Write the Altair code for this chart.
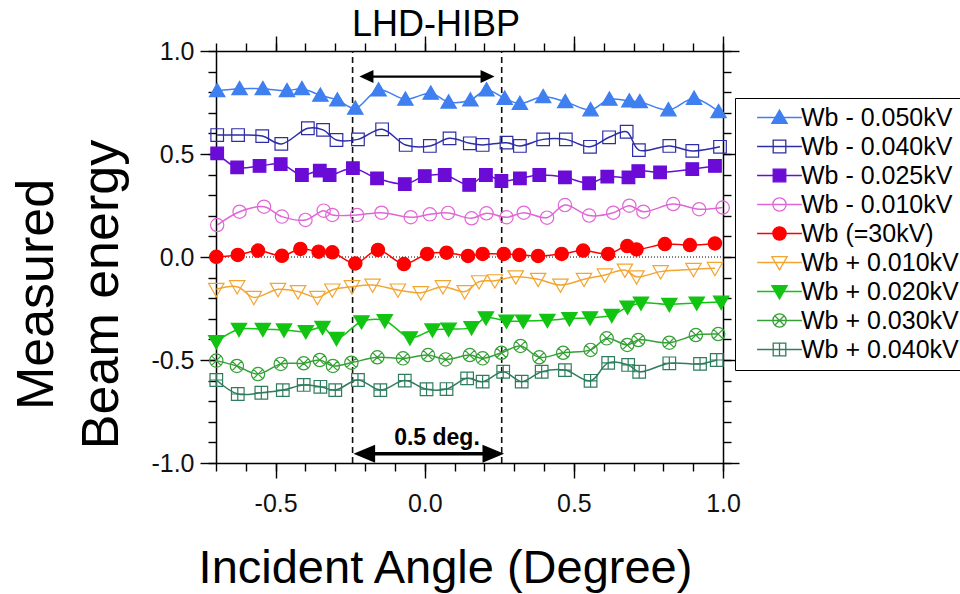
import altair as alt
import pandas as pd

# ---------------- data ----------------
SERIES = ["Wb - 0.050kV", "Wb - 0.040kV", "Wb - 0.025kV", "Wb - 0.010kV", "Wb (=30kV)",
          "Wb + 0.010kV", "Wb + 0.020kV", "Wb + 0.030kV", "Wb + 0.040kV"]
COLORS = ["#3f7ff0", "#2d2da8", "#6a0bd6", "#e066d6", "#ff0000",
          "#f2a531", "#12c412", "#35a035", "#2e7d5e"]
FILLED = [True, False, True, False, True, False, True, False, False]

X_M050 = [-0.696, -0.621, -0.543, -0.462, -0.412, -0.350, -0.293, -0.233, -0.155, -0.065, 0.020, 0.080,
          0.153, 0.207, 0.268, 0.319, 0.397, 0.471, 0.556, 0.619, 0.686, 0.721, 0.817, 0.903, 0.985]
Y_M050 = [0.807, 0.817, 0.817, 0.807, 0.817, 0.785, 0.762, 0.722, 0.811, 0.766, 0.795, 0.752,
          0.762, 0.811, 0.770, 0.745, 0.778, 0.754, 0.714, 0.766, 0.757, 0.754, 0.714, 0.770, 0.705]

X_M040 = [-0.696, -0.626, -0.545, -0.481, -0.392, -0.341, -0.296, -0.224, -0.143, -0.064, 0.017, 0.083,
          0.151, 0.194, 0.274, 0.319, 0.397, 0.473, 0.554, 0.618, 0.677, 0.718, 0.820, 0.897, 0.990]
Y_M040 = [0.592, 0.592, 0.587, 0.549, 0.625, 0.617, 0.568, 0.571, 0.620, 0.544, 0.539, 0.576,
          0.552, 0.544, 0.555, 0.539, 0.571, 0.571, 0.535, 0.581, 0.608, 0.519, 0.539, 0.515, 0.535]

X_M025 = [-0.696, -0.629, -0.554, -0.483, -0.412, -0.352, -0.319, -0.241, -0.160, -0.067, 0.000, 0.067,
          0.149, 0.205, 0.257, 0.319, 0.384, 0.470, 0.551, 0.612, 0.683, 0.716, 0.789, 0.897, 0.973]
Y_M025 = [0.503, 0.435, 0.442, 0.451, 0.398, 0.419, 0.398, 0.431, 0.382, 0.354, 0.393, 0.398,
          0.350, 0.398, 0.369, 0.382, 0.398, 0.387, 0.358, 0.390, 0.387, 0.417, 0.411, 0.427, 0.442]

X_M010 = [-0.696, -0.621, -0.539, -0.479, -0.400, -0.339, -0.310, -0.227, -0.145, -0.047, 0.017, 0.078,
          0.157, 0.207, 0.274, 0.332, 0.410, 0.470, 0.551, 0.632, 0.686, 0.733, 0.833, 0.920, 0.999]
Y_M010 = [0.155, 0.220, 0.244, 0.196, 0.180, 0.225, 0.204, 0.204, 0.215, 0.193, 0.207, 0.214,
          0.188, 0.212, 0.193, 0.215, 0.191, 0.252, 0.201, 0.215, 0.249, 0.220, 0.257, 0.232, 0.240]

X_WB = [-0.699, -0.627, -0.559, -0.479, -0.417, -0.356, -0.310, -0.233, -0.157, -0.070, 0.008, 0.073,
        0.145, 0.194, 0.265, 0.317, 0.380, 0.459, 0.531, 0.615, 0.679, 0.710, 0.805, 0.889, 0.973]
Y_WB = [0.001, 0.010, 0.031, 0.006, 0.039, 0.026, 0.023, -0.031, 0.034, -0.034, 0.015, 0.021,
        0.005, 0.015, 0.015, 0.010, 0.005, 0.015, 0.031, 0.015, 0.053, 0.037, 0.063, 0.058, 0.066]

X_P010 = [-0.699, -0.629, -0.573, -0.492, -0.425, -0.360, -0.310, -0.244, -0.175, -0.090, -0.013, 0.061,
          0.134, 0.182, 0.235, 0.305, 0.380, 0.455, 0.534, 0.604, 0.671, 0.710, 0.791, 0.901, 0.973]
Y_P010 = [-0.157, -0.144, -0.196, -0.157, -0.168, -0.196, -0.160, -0.144, -0.136, -0.160, -0.173, -0.144,
          -0.168, -0.120, -0.115, -0.096, -0.108, -0.136, -0.108, -0.087, -0.063, -0.096, -0.071, -0.060, -0.055]

X_P020 = [-0.699, -0.623, -0.543, -0.472, -0.399, -0.343, -0.296, -0.212, -0.134, -0.050, 0.026, 0.080,
          0.157, 0.205, 0.274, 0.330, 0.411, 0.485, 0.554, 0.627, 0.680, 0.725, 0.820, 0.912, 0.994]
Y_P020 = [-0.411, -0.351, -0.351, -0.354, -0.362, -0.341, -0.395, -0.314, -0.309, -0.392, -0.354, -0.350,
          -0.343, -0.295, -0.311, -0.311, -0.307, -0.299, -0.295, -0.283, -0.243, -0.223, -0.230, -0.223, -0.219]

X_P030 = [-0.699, -0.630, -0.559, -0.483, -0.406, -0.352, -0.308, -0.246, -0.159, -0.073, 0.011, 0.070,
          0.151, 0.194, 0.257, 0.321, 0.384, 0.464, 0.556, 0.610, 0.679, 0.716, 0.820, 0.909, 0.984]
Y_P030 = [-0.503, -0.529, -0.568, -0.519, -0.516, -0.500, -0.529, -0.513, -0.487, -0.492, -0.476, -0.497,
          -0.476, -0.492, -0.465, -0.432, -0.487, -0.465, -0.451, -0.395, -0.427, -0.403, -0.416, -0.379, -0.374]

X_P040 = [-0.699, -0.627, -0.548, -0.476, -0.406, -0.350, -0.300, -0.224, -0.149, -0.067, 0.006, 0.073,
          0.142, 0.194, 0.263, 0.325, 0.392, 0.470, 0.556, 0.615, 0.682, 0.719, 0.820, 0.923, 0.979]
Y_P040 = [-0.597, -0.665, -0.659, -0.646, -0.621, -0.630, -0.646, -0.597, -0.646, -0.600, -0.642, -0.641,
          -0.589, -0.605, -0.557, -0.605, -0.557, -0.549, -0.601, -0.514, -0.524, -0.557, -0.516, -0.519, -0.500]

XS = [X_M050, X_M040, X_M025, X_M010, X_WB, X_P010, X_P020, X_P030, X_P040]
YS = [Y_M050, Y_M040, Y_M025, Y_M010, Y_WB, Y_P010, Y_P020, Y_P030, Y_P040]

# annotations (data coordinates)
TITLE = "LHD-HIBP"
TITLE_X = 0.038
TITLE_Y = 1.073
VLINE_X = [-0.242, 0.258]
TOP_ARROW_X = [-0.219, 0.234]
TOP_ARROW_Y = 0.876
BOT_ARROW_X = [-0.239, 0.266]
BOT_ARROW_Y = -0.955
DEG_LABEL = "0.5 deg."
DEG_LABEL_X = 0.041
DEG_LABEL_Y = -0.912

X_MAJOR = [-0.5, 0.0, 0.5, 1.0]
Y_MAJOR = [-1.0, -0.5, 0.0, 0.5, 1.0]
X_MINOR = [round(-0.7 + 0.1 * i, 1) for i in range(18)]
Y_MINOR = [round(-1.0 + 0.1 * i, 1) for i in range(21)]

# ---------------- shapes ----------------
TRI_UP = "M0,-1.05L1.1,0.85L-1.1,0.85Z"
SQUARE = "M-0.9,-0.9H0.9V0.9H-0.9Z"
CIRCLE = "M-0.95,0A0.95,0.95,0,1,1,0.95,0A0.95,0.95,0,1,1,-0.95,0Z"
TRI_DOWN = "M0,1.05L1.1,-0.85L-1.1,-0.85Z"
CIRCLE_X = CIRCLE + "M-0.67,-0.67L0.67,0.67M-0.67,0.67L0.67,-0.67"
BOX_PLUS = SQUARE + "M0,-0.9V0.9M-0.9,0H0.9"
SHAPES = [TRI_UP, SQUARE, SQUARE, CIRCLE, CIRCLE, TRI_DOWN, TRI_DOWN, CIRCLE_X, BOX_PLUS]
LEG_SHAPES = [s + "M-3.2,0H3.2" for s in SHAPES]
FILLS = [c if f else "transparent" for c, f in zip(COLORS, FILLED)]
TOP_HEAD_LEFT = "M0,0L2,-0.93L2,0.93Z"
TOP_HEAD_RIGHT = "M0,0L-2,-0.93L-2,0.93Z"
BOT_HEAD_LEFT = "M0,0L2,-0.83L2,0.83Z"
BOT_HEAD_RIGHT = "M0,0L-2,-0.83L-2,0.83Z"

FONT = "Liberation Sans"

rows = []
for name, xs_, ys_ in zip(SERIES, XS, YS):
    for xv, yv in zip(xs_, ys_):
        rows.append({"series": name, "x": xv, "y": yv})
df = pd.DataFrame(rows)

W, H = 507, 412
xsc = alt.Scale(domain=[-0.7, 1.0], nice=False, zero=False)
ysc = alt.Scale(domain=[-1.0, 1.0], nice=False, zero=False)
LABEL_EXPR = "replace(format(datum.value, '.1f'), '\u2212', '-')"


def axis(orient, values, tick, labels=False, domain=False, **kw):
    return alt.Axis(orient=orient, values=values, tickSize=tick, labels=labels, domain=domain,
                    grid=False, ticks=True, tickColor="black", tickWidth=1.4,
                    domainColor="black", domainWidth=1.5, labelFont=FONT, labelFontSize=25,
                    labelColor="#111", labelExpr=LABEL_EXPR, labelFlush=False, **kw)


x_bottom_major = axis("bottom", X_MAJOR, 15, labels=True, domain=True, labelPadding=13,
                      title="Incident Angle (Degree)", titleFont=FONT, titleFontSize=47,
                      titleFontWeight="normal", titleColor="black", titleX=229, titleY=119,
                      titleAlign="center", titleBaseline="alphabetic")
x_bottom_minor = axis("bottom", X_MINOR, 8, title=None)
x_top_major = axis("top", X_MAJOR, 15, domain=True, title=None)
x_top_minor = axis("top", X_MINOR, 8, title=None)
y_left_major = axis("left", Y_MAJOR, 16, labels=True, domain=True, labelPadding=6,
                    title=["Measured", "Beam energy"], titleFont=FONT, titleFontSize=52,
                    titleFontWeight="normal", titleColor="black", titleAngle=270,
                    titleAlign="center", titleBaseline="alphabetic", titleX=-164, titleY=243,
                    titleLineHeight=65)
y_left_minor = axis("left", Y_MINOR, 8, title=None)
y_right_major = axis("right", Y_MAJOR, 16, domain=True, title=None)
y_right_minor = axis("right", Y_MINOR, 8, title=None)

LEG = alt.Legend(title=None, orient="none", legendX=519, legendY=47, labelFont=FONT,
                 labelFontSize=25, labelColor="black", labelLimit=300, symbolStrokeWidth=1.3,
                 symbolSize=196, rowPadding=3, padding=7, symbolOffset=25, labelOffset=9,
                 strokeColor="black", fillColor="white")

# dashed verticals (carry top-minor x axis and right-minor y axis)
vlines = alt.Chart(pd.DataFrame({"x": VLINE_X})).mark_rule(
    strokeDash=[6, 4], strokeWidth=1.6, color="#111"
).encode(
    x=alt.X("x:Q", scale=xsc, axis=x_top_minor, title=None),
    y=alt.YDatum(-1.0, scale=ysc, axis=y_right_minor, title=None),
    y2=alt.Y2Datum(1.0),
)

zero = alt.Chart(pd.DataFrame({"a": [0]})).mark_rule(
    strokeDash=[1, 2], strokeWidth=1, color="black"
).encode(
    x=alt.XDatum(-0.7, scale=xsc, axis=None),
    x2=alt.X2Datum(1.0),
    y=alt.YDatum(0.0, scale=ysc, axis=None),
)

lines = alt.Chart(df).mark_line(interpolate="catmull-rom", strokeWidth=1.5).encode(
    x=alt.X("x:Q", scale=xsc, axis=x_bottom_major),
    y=alt.Y("y:Q", scale=ysc, axis=y_left_major),
    stroke=alt.Stroke("series:N", scale=alt.Scale(domain=SERIES, range=COLORS), legend=None),
)

points = alt.Chart(df).mark_point(opacity=1, size=196, strokeWidth=1.2).encode(
    x=alt.X("x:Q", scale=xsc, axis=x_bottom_minor, title=None),
    y=alt.Y("y:Q", scale=ysc, axis=y_left_minor, title=None),
    shape=alt.Shape("series:N", scale=alt.Scale(domain=SERIES, range=SHAPES), legend=None),
    stroke=alt.Stroke("series:N", scale=alt.Scale(domain=SERIES, range=COLORS), legend=None),
    fill=alt.Fill("series:N", scale=alt.Scale(domain=SERIES, range=FILLS), legend=None),
)

legend_layer = alt.Chart(df).transform_filter("false").mark_point(
    opacity=1, size=196, strokeWidth=1.3
).encode(
    x=alt.X("x:Q", scale=xsc, axis=x_top_major, title=None),
    y=alt.Y("y:Q", scale=ysc, axis=y_right_major, title=None),
    shape=alt.Shape("series:N", scale=alt.Scale(domain=SERIES, range=LEG_SHAPES), legend=LEG),
    stroke=alt.Stroke("series:N", scale=alt.Scale(domain=SERIES, range=COLORS), legend=LEG),
    fill=alt.Fill("series:N", scale=alt.Scale(domain=SERIES, range=FILLS), legend=LEG),
)

# arrows
top_shaft = alt.Chart(pd.DataFrame({"a": [0]})).mark_rule(strokeWidth=2.2, color="black").encode(
    x=alt.XDatum(TOP_ARROW_X[0] + 0.02, scale=xsc, axis=None),
    x2=alt.X2Datum(TOP_ARROW_X[1] - 0.02),
    y=alt.YDatum(TOP_ARROW_Y, scale=ysc, axis=None),
)
bot_shaft = alt.Chart(pd.DataFrame({"a": [0]})).mark_rule(strokeWidth=3.5, color="black").encode(
    x=alt.XDatum(BOT_ARROW_X[0] + 0.03, scale=xsc, axis=None),
    x2=alt.X2Datum(BOT_ARROW_X[1] - 0.03),
    y=alt.YDatum(BOT_ARROW_Y, scale=ysc, axis=None),
)


def head(xv, yv, path, size):
    return alt.Chart(pd.DataFrame({"a": [0]})).mark_point(
        shape=path, size=size, filled=True, color="black", opacity=1, strokeWidth=0
    ).encode(
        x=alt.XDatum(xv, scale=xsc, axis=None),
        y=alt.YDatum(yv, scale=ysc, axis=None),
    )


heads = [
    head(TOP_ARROW_X[0], TOP_ARROW_Y, TOP_HEAD_LEFT, 196),
    head(TOP_ARROW_X[1], TOP_ARROW_Y, TOP_HEAD_RIGHT, 196),
    head(BOT_ARROW_X[0], BOT_ARROW_Y, BOT_HEAD_LEFT, 467),
    head(BOT_ARROW_X[1], BOT_ARROW_Y, BOT_HEAD_RIGHT, 467),
]


def label(text, xv, yv, size, weight):
    return alt.Chart(pd.DataFrame({"t": [text]})).mark_text(
        font=FONT, fontSize=size, fontWeight=weight, align="center", baseline="alphabetic",
        color="black"
    ).encode(
        x=alt.XDatum(xv, scale=xsc, axis=None),
        y=alt.YDatum(yv, scale=ysc, axis=None),
        text="t:N",
    )


deg_text = label(DEG_LABEL, DEG_LABEL_X, DEG_LABEL_Y, 23, "bold")
title_text = label(TITLE, TITLE_X, TITLE_Y, 36, "normal")

chart = alt.layer(
    vlines, zero, lines, points, legend_layer, top_shaft, bot_shaft, *heads, deg_text, title_text
).resolve_scale(
    shape="independent", stroke="independent", fill="independent"
).resolve_axis(
    x="independent", y="independent"
).properties(
    width=W, height=H,
    autosize="none",
    padding={"left": 216, "top": 51, "right": 960 - 216 - W, "bottom": 594 - 51 - H},
    background="white",
).configure_view(stroke=None)

chart.save("out.html", embed_options={"renderer": "svg", "actions": False})
